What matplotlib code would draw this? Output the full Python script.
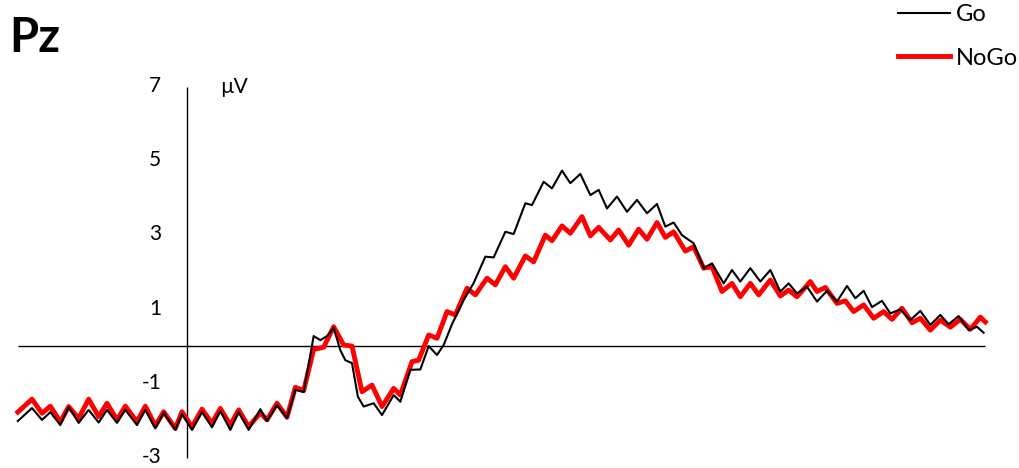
import numpy as np
import matplotlib
matplotlib.use('Agg')
import matplotlib.pyplot as plt

plt.rcParams['font.family'] = ['Lato', 'DejaVu Sans']

# ERP at Pz, time in ms, amplitude in microvolts
go_t = [-203, -186, -174, -164, -152, -142, -130, -118, -106, -96, -84, -74, -60, -50,
        -38, -28, -14, -6, 6, 18, 30, 40, 52, 62, 74, 88, 96, 108, 120, 130, 140, 152,
        160, 168, 176, 184, 190, 198, 205, 212, 224, 234, 248, 256, 268, 280, 290, 300,
        308, 318, 332, 344, 358, 368, 382, 392, 406, 414, 428, 438, 450, 460, 472, 484,
        494, 504, 516, 528, 540, 552, 564, 574, 584, 594, 608, 620, 630, 644, 654, 664,
        676, 688, 700, 712, 722, 732, 744, 756, 768, 780, 792, 802, 812, 822, 834, 844,
        856, 868, 880, 892, 904, 914, 926, 938, 948, 956]
go_uv = [-2.03, -1.68, -2.00, -1.79, -2.14, -1.65, -2.08, -1.73, -2.07, -1.73, -2.08, -1.73,
         -2.14, -1.73, -2.23, -1.81, -2.27, -1.84, -2.27, -1.79, -2.20, -1.76, -2.27, -1.79,
         -2.27, -1.71, -2.03, -1.60, -1.95, -1.19, -1.25, 0.26, 0.15, 0.26, 0.48, -0.12,
         -0.39, -0.47, -1.37, -1.64, -1.55, -1.87, -1.33, -1.51, -0.65, -0.64, -0.01, -0.25,
         0.02, 0.58, 1.23, 1.69, 2.40, 2.38, 3.07, 3.01, 3.84, 3.79, 4.42, 4.24, 4.72, 4.38,
         4.63, 4.06, 4.20, 3.70, 4.02, 3.61, 3.93, 3.57, 3.82, 3.21, 3.32, 2.98, 2.76, 2.09,
         2.22, 1.68, 2.04, 1.73, 2.09, 1.73, 2.04, 1.46, 1.68, 1.41, 1.59, 1.19, 1.48, 1.19,
         1.61, 1.28, 1.48, 1.04, 1.21, 0.87, 0.98, 0.69, 0.94, 0.56, 0.83, 0.58, 0.80, 0.42,
         0.51, 0.35]

nogo_t = [-203, -186, -174, -164, -152, -142, -130, -118, -106, -96, -84, -74, -60, -50,
          -38, -28, -14, -6, 6, 18, 30, 40, 52, 62, 74, 88, 96, 108, 120, 130, 140, 152,
          164, 176, 188, 198, 210, 222, 234, 248, 256, 270, 278, 290, 300, 312, 322, 336,
          346, 360, 370, 382, 392, 406, 416, 430, 438, 450, 460, 474, 484, 494, 508, 518,
          530, 542, 552, 564, 574, 584, 598, 608, 620, 630, 642, 654, 664, 676, 686, 700,
          712, 722, 732, 748, 756, 766, 780, 790, 800, 812, 824, 836, 846, 858, 870, 880,
          892, 904, 916, 928, 940, 952, 958]
nogo_uv = [-1.79, -1.44, -1.82, -1.63, -2.05, -1.64, -1.96, -1.44, -1.91, -1.55, -2.00, -1.63,
           -2.05, -1.63, -2.16, -1.78, -2.23, -1.78, -2.19, -1.71, -2.09, -1.69, -2.14, -1.73,
           -2.18, -1.81, -2.00, -1.55, -1.93, -1.12, -1.21, -0.10, -0.04, 0.51, 0.02, -0.01,
           -1.24, -1.06, -1.64, -1.15, -1.33, -0.43, -0.39, 0.29, 0.20, 0.92, 0.83, 1.55, 1.37,
           1.82, 1.64, 2.13, 1.82, 2.42, 2.26, 2.98, 2.83, 3.23, 3.03, 3.48, 2.96, 3.19, 2.85,
           3.12, 2.71, 3.14, 2.87, 3.32, 2.92, 3.07, 2.55, 2.67, 2.09, 2.13, 1.46, 1.68, 1.32,
           1.68, 1.37, 1.77, 1.34, 1.50, 1.32, 1.73, 1.46, 1.57, 1.14, 1.21, 0.92, 1.10, 0.74,
           0.92, 0.71, 1.01, 0.62, 0.74, 0.42, 0.69, 0.50, 0.71, 0.44, 0.77, 0.64]

y_ticks = [7, 5, 3, 1, -1, -3]

fig = plt.figure(figsize=(10.19, 4.68), dpi=100, facecolor='white')
ax = fig.add_axes([0, 0, 1, 1])
ax.set_xlim(-224.4, 998.4)
ax.set_ylim(-3.296, 9.318)
ax.axis('off')

# axes drawn through the origin, Excel style
ax.plot([-203, 958], [0, 0], color='black', lw=1.0, solid_capstyle='butt')
ax.plot([0, 0], [-3.03, 6.98], color='black', lw=1.0, solid_capstyle='butt')

ax.plot(go_t, go_uv, color='black', lw=1.5, label='Go', solid_joinstyle='round', zorder=3)
ax.plot(nogo_t, nogo_uv, color='#ff0000', lw=3.5, label='NoGo', solid_joinstyle='round', zorder=2)

for v in y_ticks:
    ax.text(-31, v, str(v), ha='right', va='center', fontsize=15)
ax.text(40, 6.97, 'µV', ha='left', va='center', fontsize=15)

ax.text(-213, 8.3, 'Pz', ha='left', va='center', fontsize=34, fontweight='bold')

ax.legend(loc='upper right', bbox_to_anchor=(1.011, 1.016), frameon=False, fontsize=17,
          handlelength=2.2, handletextpad=0.25, labelspacing=0.95, borderaxespad=0.1)

fig.savefig('out.png', dpi=100, facecolor='white')
